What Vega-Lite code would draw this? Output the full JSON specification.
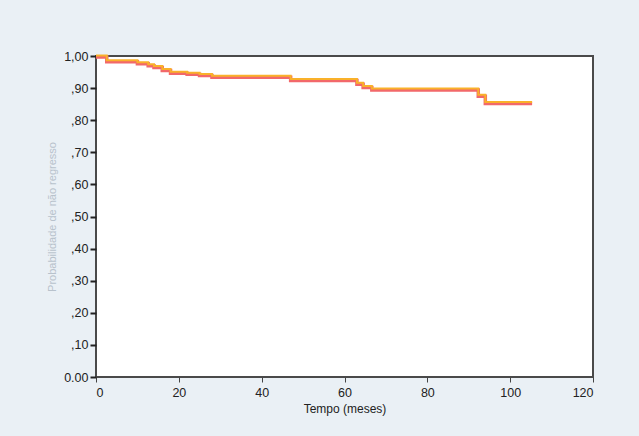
{
  "$schema": "https://vega.github.io/schema/vega-lite/v6.json",
  "width": 497,
  "height": 321,
  "autosize": {"type": "none"},
  "padding": {"left": 96, "top": 56, "right": 46, "bottom": 59},
  "background": "#eaf0f5",
  "config": {
    "view": {"fill": "#ffffff", "stroke": "#4a4a4a", "strokeWidth": 2},
    "font": "Liberation Sans"
  },
  "data": {
    "values": [
      {"t": 0, "s": 1.0},
      {"t": 2.6, "s": 0.985},
      {"t": 10, "s": 0.979},
      {"t": 12.6, "s": 0.973},
      {"t": 14, "s": 0.967},
      {"t": 16, "s": 0.958},
      {"t": 18, "s": 0.949},
      {"t": 22, "s": 0.946},
      {"t": 25, "s": 0.942},
      {"t": 28, "s": 0.937},
      {"t": 47, "s": 0.927},
      {"t": 63, "s": 0.915},
      {"t": 64.5, "s": 0.905},
      {"t": 66.6, "s": 0.897},
      {"t": 92.3, "s": 0.878},
      {"t": 94, "s": 0.855},
      {"t": 105.3, "s": 0.855}
    ]
  },
  "encoding": {
    "x": {
      "field": "t", "type": "quantitative",
      "scale": {"domain": [0, 120], "nice": false},
      "axis": {
        "values": [0, 20, 40, 60, 80, 100, 120],
        "title": "Tempo (meses)", "titleFontSize": 12, "titleFontWeight": "normal", "titleColor": "#222",
        "titlePadding": 5,
        "labelFontSize": 12.5, "labelColor": "#222", "tickColor": "#444", "tickSize": 5,
        "domain": false, "grid": false, "labelPadding": 4
      }
    },
    "y": {
      "field": "s", "type": "quantitative",
      "scale": {"domain": [0, 1], "nice": false},
      "axis": {
        "values": [0, 0.1, 0.2, 0.3, 0.4, 0.5, 0.6, 0.7, 0.8, 0.9, 1],
        "labelExpr": "datum.value >= 1 ? '1,00' : (datum.value <= 0 ? '0.00' : ',' + format(datum.value * 100, '02d'))",
        "title": "Probabilidade de não regresso", "titleFontSize": 11, "titleFontWeight": "normal", "titleColor": "#b8c2cc",
        "titlePadding": 6,
        "labelFontSize": 12.5, "labelColor": "#222", "tickColor": "#222", "tickSize": 6, "tickWidth": 2,
        "domain": false, "grid": false, "labelPadding": 2
      }
    }
  },
  "layer": [
    {"mark": {"type": "line", "interpolate": "step-after", "color": "#f2686a", "strokeWidth": 3.5, "yOffset": 1}},
    {"mark": {"type": "line", "interpolate": "step-after", "color": "#f9b12a", "strokeWidth": 2, "yOffset": -0.5}}
  ]
}
